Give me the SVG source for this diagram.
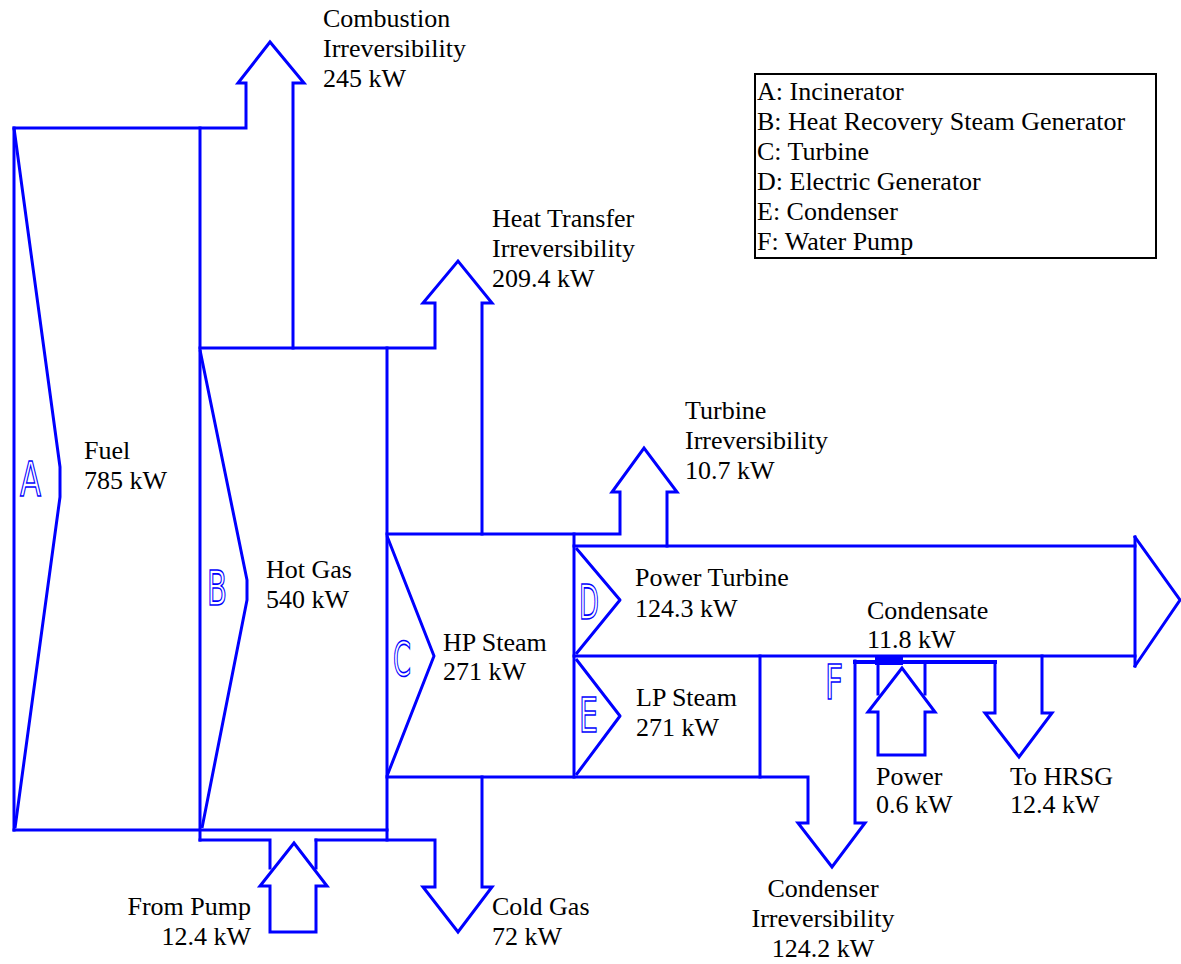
<svg xmlns="http://www.w3.org/2000/svg" width="1181" height="964" viewBox="0 0 1181 964">
<style>
.ln{fill:none;stroke:#0000FF;stroke-width:3;stroke-linejoin:miter;stroke-linecap:square}
.ch{fill:none;stroke:#0000FF;stroke-width:3;stroke-linejoin:round}
.lt{font-family:"DejaVu Sans","Liberation Sans",sans-serif;font-size:48px;fill:#FFFFFF;stroke:#0000FF;stroke-width:1.6}
.tx{font-family:"Liberation Serif","Times New Roman",serif;font-size:26px;fill:#000000}
</style>
<rect x="0" y="0" width="1181" height="964" fill="#FFFFFF"/>
<g id="connectors">
  <!-- main frame lines -->
  <line class="ln" x1="14" y1="128" x2="14" y2="830"/>
  <line class="ln" x1="14" y1="830" x2="387" y2="830"/>
  <line class="ln" x1="200" y1="128" x2="200" y2="840"/>
  <line class="ln" x1="387" y1="348" x2="387" y2="840"/>
  <line class="ln" x1="574" y1="534" x2="574" y2="777"/>
  <!-- combustion irreversibility -->
  <polyline class="ln" points="14,128 246,128 246,83 238,83 270,42 304,83 293,83 293,348"/>
  <!-- heat transfer irreversibility -->
  <polyline class="ln" points="200,348 435,348 435,303 423,303 458,261 492,303 482,303 482,534"/>
  <!-- turbine irreversibility -->
  <polyline class="ln" points="387,534 620,534 620,492 612,492 644,448 677,492 667,492 667,546"/>
  <!-- power turbine -->
  <line class="ln" x1="574" y1="546" x2="1135" y2="546"/>
  <line class="ln" x1="1135" y1="537" x2="1135" y2="666"/>
  <polyline class="ln" points="1135,537 1180,600 1135,666"/>
  <!-- LP steam -->
  <line class="ln" x1="574" y1="656" x2="1135" y2="656"/>
  <line class="ln" x1="760" y1="656" x2="760" y2="777"/>
  <!-- condenser irreversibility -->
  <polyline class="ln" points="387,777 808,777 808,823 798,823 832,867 865,823 855,823 855,661"/>
  <!-- cold gas -->
  <polyline class="ln" points="316,840 435,840 435,887 423,887 458,932 492,887 482,887 482,777"/>
  <!-- from pump -->
  <polyline class="ln" points="200,840 270,840 270,868"/>
  <line class="ln" x1="316" y1="840" x2="316" y2="868"/>
  <polygon class="ln" points="294,843 260,886 270,886 270,932 316,932 316,886 327,886"/>
  <!-- condensate / pump -->
  <line class="ln" x1="855" y1="662" x2="995" y2="662" style="stroke-width:4"/>
  <rect x="875" y="657" width="28" height="8" fill="#0000FF"/>
  <polyline class="ln" points="878,664 878,694"/>
  <polyline class="ln" points="925,664 925,694"/>
  <polygon class="ln" points="902,668 868,712 878,712 878,755 925,755 925,712 935,712"/>
  <polyline class="ln" points="995,662 995,713 985,713 1019,757 1052,713 1042,713 1042,656"/>
</g>
<g id="node-A">
  <polyline class="ch" points="14,128 60,467 60,497 15,828"/>
  <text class="lt" x="20" y="496" textLength="21" lengthAdjust="spacingAndGlyphs">A</text>
</g>
<g id="node-B">
  <polyline class="ch" points="200,350 247,580 247,600 202,828"/>
  <text class="lt" x="207" y="605" textLength="20" lengthAdjust="spacingAndGlyphs">B</text>
</g>
<g id="node-C">
  <polyline class="ch" points="387,536 434,656 387,776"/>
  <text class="lt" x="393" y="676" textLength="18" lengthAdjust="spacingAndGlyphs">C</text>
</g>
<g id="node-D">
  <polyline class="ch" points="576,548 620,600 576,654"/>
  <text class="lt" x="579" y="619" textLength="20" lengthAdjust="spacingAndGlyphs">D</text>
</g>
<g id="node-E">
  <polyline class="ch" points="576,659 620,716 576,775"/>
  <text class="lt" x="579" y="732" textLength="19" lengthAdjust="spacingAndGlyphs">E</text>
</g>
<g id="node-F">
  <text class="lt" x="825" y="699" textLength="18" lengthAdjust="spacingAndGlyphs">F</text>
</g>
<g id="labels">
  <text class="tx" x="323" y="27">Combustion</text>
  <text class="tx" x="323" y="57">Irreversibility</text>
  <text class="tx" x="323" y="87">245 kW</text>
  <text class="tx" x="492" y="227">Heat Transfer</text>
  <text class="tx" x="492" y="257">Irreversibility</text>
  <text class="tx" x="492" y="287">209.4 kW</text>
  <text class="tx" x="685" y="419">Turbine</text>
  <text class="tx" x="685" y="449">Irreversibility</text>
  <text class="tx" x="685" y="479">10.7 kW</text>
  <text class="tx" x="84" y="459">Fuel</text>
  <text class="tx" x="84" y="489">785 kW</text>
  <text class="tx" x="266" y="578">Hot Gas</text>
  <text class="tx" x="266" y="608">540 kW</text>
  <text class="tx" x="443" y="651">HP Steam</text>
  <text class="tx" x="443" y="680">271 kW</text>
  <text class="tx" x="635" y="586">Power Turbine</text>
  <text class="tx" x="635" y="617">124.3 kW</text>
  <text class="tx" x="636" y="706">LP Steam</text>
  <text class="tx" x="636" y="736">271 kW</text>
  <text class="tx" x="867" y="619">Condensate</text>
  <text class="tx" x="867" y="648">11.8 kW</text>
  <text class="tx" x="876" y="785">Power</text>
  <text class="tx" x="876" y="813">0.6 kW</text>
  <text class="tx" x="1010" y="785">To HRSG</text>
  <text class="tx" x="1010" y="813">12.4 kW</text>
  <text class="tx" x="823" y="897" text-anchor="middle">Condenser</text>
  <text class="tx" x="823" y="927" text-anchor="middle">Irreversibility</text>
  <text class="tx" x="823" y="957" text-anchor="middle">124.2 kW</text>
  <text class="tx" x="251" y="915" text-anchor="end">From Pump</text>
  <text class="tx" x="251" y="945" text-anchor="end">12.4 kW</text>
  <text class="tx" x="492" y="915">Cold Gas</text>
  <text class="tx" x="492" y="945">72 kW</text>
</g>
<g id="legend">
  <rect x="755" y="74" width="401" height="184" fill="none" stroke="#000000" stroke-width="2"/>
  <text class="tx" x="757" y="100">A: Incinerator</text>
  <text class="tx" x="757" y="130">B: Heat Recovery Steam Generator</text>
  <text class="tx" x="757" y="160">C: Turbine</text>
  <text class="tx" x="757" y="190">D: Electric Generator</text>
  <text class="tx" x="757" y="220">E: Condenser</text>
  <text class="tx" x="757" y="250">F: Water Pump</text>
</g>
</svg>
